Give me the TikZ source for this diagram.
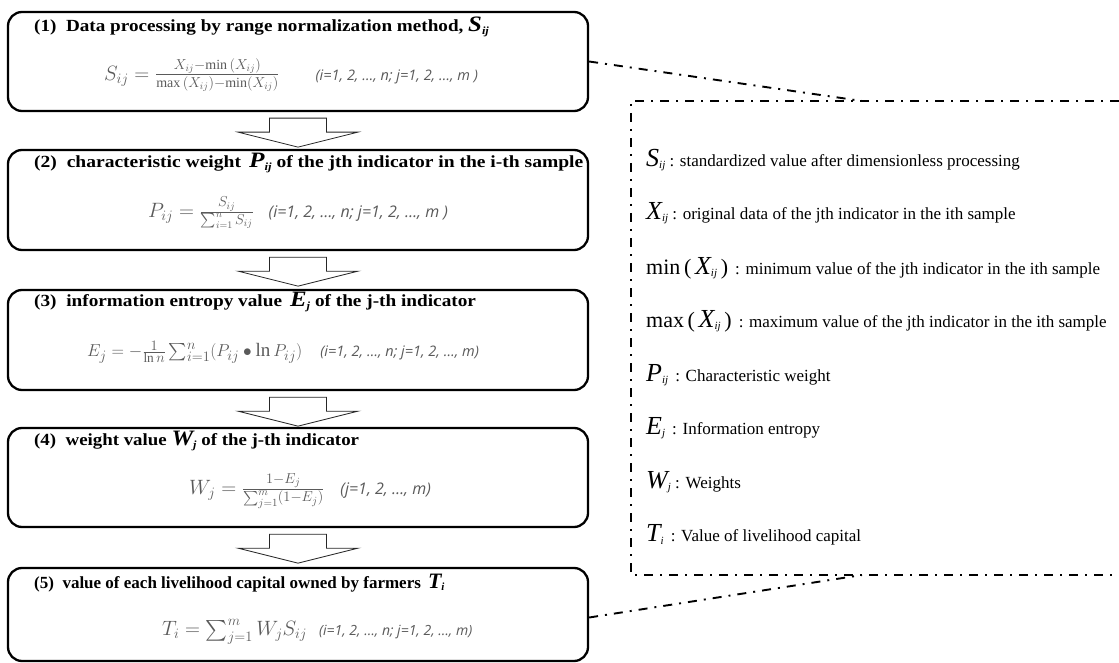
\documentclass[tikz,border=0pt]{standalone}
\usepackage{amsmath}
\usepackage{fontspec}
\setmainfont{Liberation Serif}
\newfontfamily\rangefont{Open Sans}
\usetikzlibrary{calc}
\definecolor{fgrey}{HTML}{5A5A5A}
\newcommand\symb[3]{{\fontsize{#1}{#1}\selectfont\itshape #2}\raisebox{-2.5pt}{\fontsize{11}{11}\selectfont\itshape #3}}
\newcommand\rng[2]{{\rangefont\itshape\fontsize{#1}{#1}\selectfont #2}}
\newcommand\bigtxt[1]{{\fontsize{22}{22}\selectfont #1}}
\newcommand\fsz[1]{\fontsize{#1}{#1}\selectfont}
\begin{document}
\begin{tikzpicture}[x=1pt,y=-1pt,
  box/.style={draw, line width=2.3pt, rounded corners=14pt, minimum width=580pt, inner sep=0pt},
  head/.style={anchor=west, inner sep=0pt, font=\fontsize{17}{19}\selectfont\bfseries},
  formula/.style={anchor=west, inner sep=0pt, text=fgrey},
  blockarrow/.style={draw=black!85, line width=0.8pt, fill=white},
  ddot/.style={line width=1.9pt, dash pattern=on 9pt off 7pt on 2pt off 7pt},
  legend/.style={anchor=west, inner sep=0pt, font=\fontsize{17}{19}\selectfont}]
\useasboundingbox (0,0) rectangle (1119,663);

% boxes
\node[box, minimum height=99pt]  (b1) at (298,61.5) {};
\node[box, minimum height=100pt] (b2) at (298,200) {};
\node[box, minimum height=100pt] (b3) at (298,340) {};
\node[box, minimum height=99pt]  (b4) at (298,477.5) {};
\node[box, minimum height=93pt]  (b5) at (298,614.5) {};

% block arrows
\foreach \b in {b1,b2,b3,b4}{
  \draw[blockarrow] (\b.south) ++(-28.5,6) -- ++(57,0) -- ++(0,14) -- ++(31.5,0)
     -- ++(-60,15) -- ++(-60,-15) -- ++(31.5,0) -- cycle;
}

% headings
\node[head] (h1) at (34,27) {\scalebox{1.126}[1]{(1)\enspace Data processing by range normalization method, \symb{22}{S}{ij}}};
\node[head] (h2) at (34,163) {\scalebox{1.15}[1]{(2)\enspace characteristic weight\, \symb{22}{P}{ij} of the jth indicator in the i-th sample}};
\node[head] (h3) at (34,302) {\scalebox{1.133}[1]{(3)\enspace information entropy value\, \symb{22}{E}{j} of the j-th indicator}};
\node[head] (h4) at (34,441) {\scalebox{1.11}[1]{(4)\enspace weight value \symb{22}{W}{j} of the j-th indicator}};
\node[head] (h5) at (34,583) {(5)\enspace value of each livelihood capital owned by farmers\, \symb{22}{T}{i}};

% formulas
\node[formula, font=\fsz{20}] (f1) at (104,75) {$S_{ij}=\frac{X_{ij}-\min\,(X_{ij})}{\max\,(X_{ij})-\min(X_{ij})}$\hspace{36pt}\rng{14.5}{(i=1, 2, \dots, n; j=1, 2, \dots, m )}};
\node[formula, font=\fsz{20}] (f2) at (148,213) {$P_{ij}=\frac{S_{ij}}{\sum_{i=1}^{n}S_{ij}}$\hspace{15pt}\rng{16}{(i=1, 2, \dots, n; j=1, 2, \dots, m )}};
\node[formula, font=\fsz{19}] (f3) at (87,352) {$E_j=-\frac{1}{\ln n}\sum_{i=1}^{n}(P_{ij}\bullet\ln P_{ij})$\hspace{18pt}\rng{14.5}{(i=1, 2, \dots, n; j=1, 2, \dots, m)}};
\node[formula, font=\fsz{21}] (f4) at (189,491) {$W_j=\frac{1-E_j}{\sum_{j=1}^{m}(1-E_j)}$\hspace{16pt}\rng{16}{(j=1, 2, \dots, m)}};
\node[formula, font=\fsz{21.5}] (f5) at (162,632) {$T_i=\sum_{j=1}^{m}W_jS_{ij}$\hspace{12pt}\rng{14}{(i=1, 2, \dots, n; j=1, 2, \dots, m)}};

% legend frame
\coordinate (ftl) at (631,101);
\coordinate (fbl) at (631,575);
\coordinate (ftr) at (1119,101);
\coordinate (fbr) at (1119,575);
\coordinate (c1) at (862,101);
\coordinate (c5) at (862,575);
\draw[ddot] (ftr) -- (ftl) -- (fbl) -- (fbr);
\draw[ddot] (b1.east) -- (c1);
\draw[ddot] ($(b5.east)+(0,3)$) -- (c5);

% legend entries
\node[legend] (l1) at (646,160) {\symb{26}{S}{ij} : standardized value after dimensionless processing};
\node[legend] (l2) at (646,213) {\symb{26}{X}{ij} : original data of the jth indicator in the ith sample};
\node[legend] (l3) at (646,268) {\bigtxt{min\,(\,}\symb{26}{X}{ij}\bigtxt{\,)}\, : minimum value of the jth indicator in the ith sample};
\node[legend] (l4) at (646,321) {\bigtxt{max\,(\,}\symb{26}{X}{ij}\bigtxt{\,)}\, : maximum value of the jth indicator in the ith sample};
\node[legend] (l5) at (646,375) {\symb{26}{P}{ij}\, : Characteristic weight};
\node[legend] (l6) at (646,428) {\symb{26}{E}{j}\, : Information entropy};
\node[legend] (l7) at (646,482) {\symb{26}{W}{j} : Weights};
\node[legend] (l8) at (646,535) {\symb{26}{T}{i}\, : Value of livelihood capital};
\end{tikzpicture}
\end{document}
